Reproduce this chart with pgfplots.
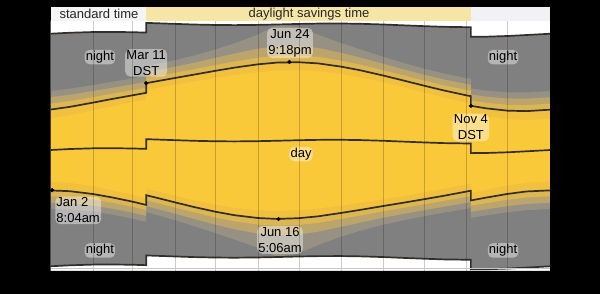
\documentclass[border=0pt]{standalone}
\usepackage{pgfplots}
\pgfplotsset{compat=1.18}
\usepackage{pgfplotstable}
\usepgfplotslibrary{fillbetween}
\usepackage{fontspec}
\setmainfont{Liberation Sans}
\definecolor{cday}{RGB}{250,201,58}
\definecolor{cdayb}{RGB}{241,192,62}
\definecolor{ccivil}{RGB}{220,182,82}
\definecolor{cnaut}{RGB}{188,165,108}
\definecolor{castro}{RGB}{150,145,130}
\definecolor{cnight}{RGB}{128,128,128}
\definecolor{cline}{RGB}{50,46,42}
\definecolor{hstd}{RGB}{244,244,244}
\definecolor{hdst}{RGB}{246,230,166}
\definecolor{hstd2}{RGB}{240,242,246}

\pgfplotstableread{
x N sr ss dlo dhi clo chi nlo nhi alo ahi mlo mhi
0 12.218 8.044 16.392 8.951 15.485 7.429 17.007 6.760 17.676 6.122 18.314 0.218 24.218
14 12.317 7.967 16.667 8.834 15.800 7.370 17.264 6.715 17.919 6.086 18.548 0.317 24.317
31 12.390 7.674 17.106 8.474 16.306 7.109 17.671 6.477 18.303 5.863 18.917 0.390 24.390
45 12.402 7.323 17.481 8.073 16.731 6.779 18.025 6.164 18.640 5.557 19.247 0.402 24.402
60 12.373 6.886 17.860 7.602 17.144 6.358 18.388 5.751 18.995 5.141 19.605 0.373 24.373
70 12.332 6.549 18.115 7.251 17.413 6.025 18.639 5.415 19.249 4.794 19.870 0.332 24.332
70 13.332 7.549 19.115 8.251 18.413 7.025 19.639 6.415 20.249 5.794 20.870 1.332 25.332
74 13.315 7.414 19.216 8.110 18.520 6.891 19.739 6.280 20.350 5.654 20.976 1.315 25.315
91 13.232 6.819 19.645 7.512 18.952 6.287 20.177 5.652 20.812 4.981 21.483 1.232 25.232
105 13.165 6.336 19.994 7.042 19.288 5.784 20.546 5.109 21.221 4.370 21.960 1.165 25.165
121 13.117 5.839 20.395 6.575 19.659 5.249 20.985 4.503 21.731 3.633 22.601 1.117 25.117
135 13.103 5.483 20.723 6.253 19.953 4.852 21.354 4.025 22.181 2.966 23.240 1.103 25.103
152 13.128 5.197 21.059 6.005 20.251 4.517 21.739 3.581 22.675 2.128 24.128 1.128 25.128
166 13.170 5.103 21.237 5.932 20.408 4.398 21.942 3.399 22.941 1.170 25.170 1.170 25.170
182 13.227 5.182 21.272 6.007 20.447 4.481 21.973 3.492 22.962 1.577 24.877 1.227 25.227
196 13.263 5.372 21.154 6.176 20.350 4.700 21.826 3.781 22.745 2.413 24.113 1.263 25.263
213 13.270 5.725 20.815 6.486 20.054 5.104 21.436 4.297 22.243 3.292 23.248 1.270 25.270
227 13.240 6.040 20.440 6.769 19.711 5.458 21.022 4.727 21.753 3.886 22.594 1.240 25.240
244 13.167 6.442 19.892 7.143 19.191 5.896 20.438 5.232 21.102 4.514 21.820 1.167 25.167
258 13.085 6.764 19.406 7.456 18.714 6.236 19.934 5.606 20.564 4.946 21.224 1.085 25.085
274 12.995 7.147 18.843 7.844 18.146 6.624 19.366 6.014 19.976 5.392 20.598 0.995 24.995
288 12.928 7.488 18.368 8.207 17.649 6.959 18.897 6.351 19.505 5.743 20.113 0.928 24.928
305 12.892 7.937 17.847 8.703 17.081 7.387 18.397 6.767 19.017 6.158 19.626 0.892 24.892
308 12.895 8.014 17.776 8.791 16.999 7.459 18.331 6.835 18.955 6.224 19.566 0.895 24.895
308 11.895 7.014 16.776 7.791 15.999 6.459 17.331 5.835 17.955 5.224 18.566 -0.105 23.895
319 11.908 7.299 16.517 8.116 15.700 6.725 17.091 6.087 17.729 5.469 18.347 -0.092 23.908
335 11.980 7.688 16.272 8.567 15.393 7.085 16.875 6.426 17.534 5.794 18.166 -0.020 23.980
349 12.085 7.941 16.229 8.857 15.313 7.323 16.847 6.651 17.519 6.011 18.159 0.085 24.085
366 12.213 8.049 16.377 8.959 15.467 7.433 16.993 6.763 17.663 6.124 18.302 0.213 24.213
}\dat

\tikzset{lab/.style={font=\fontsize{13bp}{16bp}\selectfont, inner sep=1.2bp,
  fill=white, fill opacity=0.42, text opacity=1, rounded corners=5bp}}

\begin{document}
\begin{tikzpicture}
\fill[black, even odd rule] (0,0) rectangle (600bp,294bp) (50.7bp,23bp) rectangle (550bp,273.3bp);
\begin{axis}[
  at={(50.7bp,23bp)}, anchor=south west,
  scale only axis, width=499.3bp, height=250.3bp,
  xmin=0, xmax=366, ymin=-0.27, ymax=25.56,
  axis on top,
  axis line style={draw=none},
  major tick length=0pt,
  xtick={31,60,91,121,152,182,213,244,274,305,335},
  ytick={0},
  xticklabels={}, yticklabels={},
  xmajorgrids, ymajorgrids,
  x grid style={black,opacity=0.2,line width=0.6bp},
  y grid style={black!22,line width=0.6bp},
  axis background/.style={fill=white},
]
\addplot[draw=none, name path=mlo] table[x=x,y=mlo]{\dat};
\addplot[draw=none, name path=mhi] table[x=x,y=mhi]{\dat};
\addplot[draw=none, name path=alo] table[x=x,y=alo]{\dat};
\addplot[draw=none, name path=ahi] table[x=x,y=ahi]{\dat};
\addplot[draw=none, name path=nlo] table[x=x,y=nlo]{\dat};
\addplot[draw=none, name path=nhi] table[x=x,y=nhi]{\dat};
\addplot[draw=none, name path=clo] table[x=x,y=clo]{\dat};
\addplot[draw=none, name path=chi] table[x=x,y=chi]{\dat};
\addplot[draw=none, name path=sr] table[x=x,y=sr]{\dat};
\addplot[draw=none, name path=ss] table[x=x,y=ss]{\dat};
\addplot[draw=none, name path=dlo] table[x=x,y=dlo]{\dat};
\addplot[draw=none, name path=dhi] table[x=x,y=dhi]{\dat};
\addplot[fill=cnight, draw=none] fill between[of=mlo and mhi];
\addplot[fill=castro, draw=none] fill between[of=alo and ahi];
\addplot[fill=cnaut, draw=none] fill between[of=nlo and nhi];
\addplot[fill=ccivil, draw=none] fill between[of=clo and chi];
\addplot[fill=cdayb, draw=none] fill between[of=sr and ss];
\addplot[fill=cday, draw=none] fill between[of=dlo and dhi];
\addplot[cline, line width=1.7bp] table[x=x,y=sr]{\dat};
\addplot[cline, line width=1.7bp] table[x=x,y=ss]{\dat};
\addplot[cline, line width=1.7bp] table[x=x,y=N]{\dat};
\addplot[cline, line width=1.7bp] table[x=x,y=mlo]{\dat};
\addplot[cline, line width=1.7bp] table[x=x,y=mhi]{\dat};
\addplot[only marks, mark=*, mark size=1.9bp, black] coordinates {(1,8.067) (70,19.115) (175,21.3) (167,5.1) (308,16.776)};
\coordinate (nTL) at (axis cs:36.1,21.8);
\coordinate (nBL) at (axis cs:36.1,1.85);
\coordinate (nTR) at (axis cs:331.6,21.8);
\coordinate (nBR) at (axis cs:331.6,1.85);
\coordinate (lMar) at (axis cs:70,21.2);
\coordinate (lJun24) at (axis cs:175.4,23.26);
\coordinate (lNov) at (axis cs:308,14.54);
\coordinate (lDay) at (axis cs:183.5,11.8);
\coordinate (lJan) at (axis cs:3.2,5.98);
\coordinate (lJun16) at (axis cs:168.1,2.93);
\end{axis}
% header band
\fill[hstd] (50.7bp,273.3bp) rectangle (146.2bp,287bp);
\fill[hdst] (146.2bp,273.3bp) rectangle (470.9bp,287bp);
\fill[hstd2] (470.9bp,273.3bp) rectangle (550bp,287bp);
\node[font=\fontsize{13bp}{16bp}\selectfont, text=black!85] at (99bp,280.2bp) {standard time};
\node[font=\fontsize{13bp}{16bp}\selectfont, text=black!85] at (309bp,280.2bp) {daylight savings time};
% labels
\node[lab] at (nTL) {night};
\node[lab] at (nBL) {night};
\node[lab] at (nTR) {night};
\node[lab] at (nBR) {night};
\node[lab,align=center] at (lMar) {Mar 11\\DST};
\node[lab,align=center] at (lJun24) {Jun 24\\9:18pm};
\node[lab,align=center] at (lNov) {Nov 4\\DST};
\node[lab] at (lDay) {day};
\node[lab,align=left,anchor=west] at (lJan) {Jan 2\\8:04am};
\node[lab,align=center] at (lJun16) {Jun 16\\5:06am};
\pgfresetboundingbox
\useasboundingbox (0,0) rectangle (600bp,294bp);
\end{tikzpicture}
\end{document}
